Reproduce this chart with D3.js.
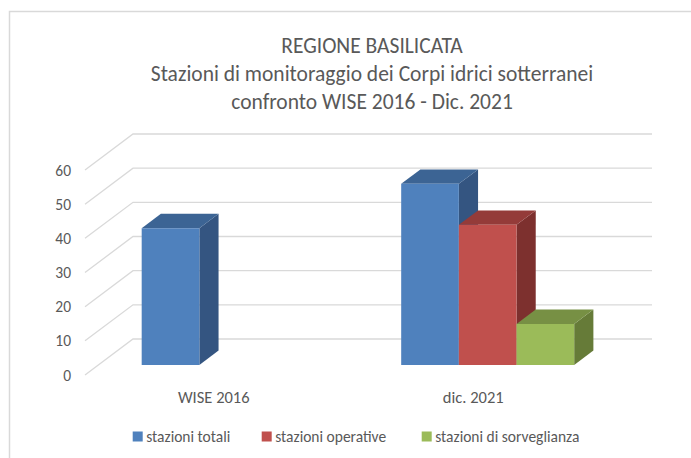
<!DOCTYPE html>
<html>
<head>
<meta charset="utf-8">
<script src="https://cdn.jsdelivr.net/npm/d3@7"></script>
<style>
  html, body { margin: 0; padding: 0; background: #fff; }
  svg { display: block; font-family: Carlito, Lato, "Noto Sans", sans-serif; }
</style>
</head>
<body>
<svg id="chart" width="691" height="458"></svg>
<script>
// Station counts per reporting period
const categories = ["WISE 2016", "dic. 2021"];
const seriesNames = ["stazioni totali", "stazioni operative", "stazioni di sorveglianza"];
const stazioniTotali = [40, 53];
const stazioniOperative = [null, 41];
const stazioniSorveglianza = [null, 12];
const yTicks = [0, 10, 20, 30, 40, 50, 60];
const titleLines = [
  "REGIONE BASILICATA",
  "Stazioni di monitoraggio dei Corpi idrici sotterranei",
  "confronto WISE 2016 - Dic. 2021"
];

const seriesValues = [stazioniTotali, stazioniOperative, stazioniSorveglianza];
// face colours: front, top, side
const palette = [
  { front: "#4F81BD", top: "#3C6494", side: "#345581" },
  { front: "#C0504D", top: "#943B39", side: "#7D302E" },
  { front: "#9BBB59", top: "#779044", side: "#667B38" }
];

const svg = d3.select("#chart");
const textColor = "#595959";
const gridColor = "#d9d9d9";

// chart area frame (runs off the right and bottom edges)
svg.append("path")
  .attr("d", "M9.5,470 L9.5,11.5 L700,11.5")
  .attr("fill", "none").attr("stroke", gridColor).attr("stroke-width", 1.5);

// title
svg.append("g").selectAll("text").data(titleLines).join("text")
  .attr("x", 372).attr("y", (d, i) => 53 + i * 28)
  .attr("text-anchor", "middle")
  .attr("font-size", 21.5).attr("fill", textColor)
  .text(d => d);

// oblique 3D projection: x/y on the front plane, z in [0,1] towards the back wall
const depth = { dx: 48, dy: -36 };
const project = (x, y, z) => [x + z * depth.dx, y + z * depth.dy];

const x = d3.scaleBand().domain(categories).range([85, 604]).padding(0);
const xs = d3.scaleBand().domain(seriesNames).range([0, x.bandwidth()])
  .paddingInner(0).paddingOuter(0.75);
const y = d3.scaleLinear().domain([0, 60]).range([375, 170]);

const zFront = 0.28, zBack = 0.68;

// gridlines: floor/side diagonals and back-wall lines
const grid = svg.append("g").attr("stroke", gridColor).attr("stroke-width", 1.3).attr("fill", "none");
yTicks.forEach(v => {
  const a = project(x.range()[0], y(v), 0);
  const b = project(x.range()[0], y(v), 1);
  const c = project(x.range()[1], y(v), 1);
  grid.append("path").attr("d", d3.line()([a, b, c]));
});

// y tick labels
svg.append("g").selectAll("text").data(yTicks).join("text")
  .attr("x", 71).attr("y", v => y(v) + 5.5)
  .attr("text-anchor", "end").attr("font-size", 15.5).attr("fill", textColor)
  .text(v => v);

// bars, drawn left to right so nearer faces overlap
const bars = [];
categories.forEach((cat, ci) => {
  seriesNames.forEach((s, si) => {
    const v = seriesValues[si][ci];
    if (v == null) return;
    bars.push({ cat, s, si, v });
  });
});

const barG = svg.append("g");
bars.forEach(d => {
  const x0 = x(d.cat) + xs(d.s);
  const x1 = x0 + xs.bandwidth();
  const yt = y(d.v), yb = y(0);
  const col = palette[d.si];
  const g = barG.append("g");
  const poly = pts => "M" + pts.map(p => p.join(",")).join("L") + "Z";
  // side face
  g.append("path").attr("fill", col.side)
    .attr("d", poly([project(x1, yb, zFront), project(x1, yb, zBack), project(x1, yt, zBack), project(x1, yt, zFront)]));
  // top face
  g.append("path").attr("fill", col.top)
    .attr("d", poly([project(x0, yt, zFront), project(x0, yt, zBack), project(x1, yt, zBack), project(x1, yt, zFront)]));
  // front face
  g.append("path").attr("fill", col.front)
    .attr("d", poly([project(x0, yb, zFront), project(x0, yt, zFront), project(x1, yt, zFront), project(x1, yb, zFront)]));
});

// category labels
svg.append("g").selectAll("text").data(categories).join("text")
  .attr("x", d => x(d) + x.bandwidth() / 2 - 1)
  .attr("y", 403)
  .attr("text-anchor", "middle").attr("font-size", 16.5).attr("fill", textColor)
  .text(d => d);

// legend
const legendX = [132.7, 261.7, 421.7];
const legend = svg.append("g").selectAll("g").data(seriesNames).join("g")
  .attr("transform", (d, i) => `translate(${legendX[i]},436.5)`);
legend.append("rect").attr("x", 0).attr("y", -5).attr("width", 10).attr("height", 10)
  .attr("fill", (d, i) => palette[i].front);
legend.append("text").attr("x", 13.5).attr("y", 5)
  .attr("font-size", 15.5).attr("fill", textColor).text(d => d);
</script>
</body>
</html>
